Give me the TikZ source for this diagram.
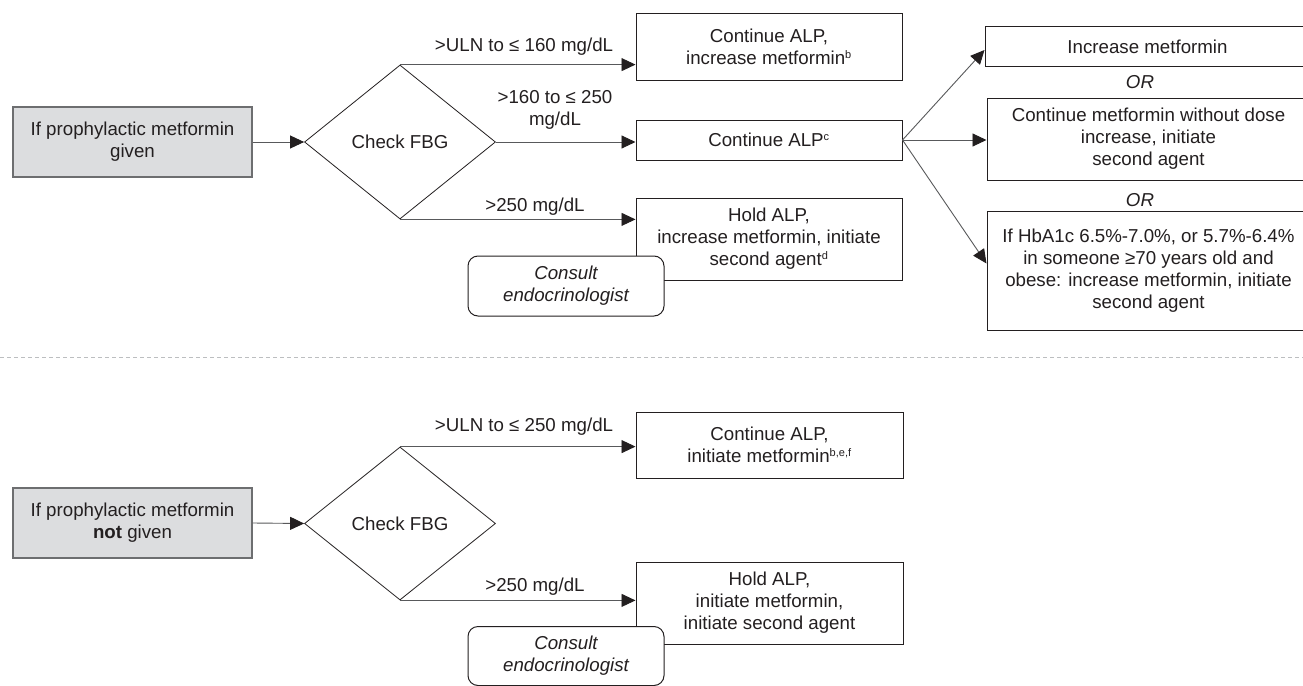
\documentclass[tikz,border=0pt]{standalone}
\usepackage{fontspec}
\setmainfont{Liberation Sans}
\usetikzlibrary{shapes.geometric,arrows.meta,calc}
\definecolor{txt}{HTML}{231F20}
\definecolor{linec}{HTML}{58595B}
\definecolor{gfill}{HTML}{DCDDDF}
\definecolor{gline}{HTML}{6D6E70}
\definecolor{dashc}{HTML}{BCBEC0}
\newcommand\fs{\fontsize{18.7}{22}\selectfont}
\newcommand\sups[1]{\textsuperscript{\fontsize{11}{11}\selectfont #1}}
\tikzset{
  box/.style={draw=txt, line width=1pt, fill=white, inner sep=0pt, align=center, text=txt, font=\fs},
  gbox/.style={draw=gline, fill=gfill, line width=1.4pt, inner sep=0pt, align=center, text=txt, font=\fs,
               minimum width=239pt, minimum height=70pt},
  dia/.style={diamond, draw=txt, line width=0.8pt, fill=white, inner sep=0pt, minimum width=191pt,
              minimum height=154pt, text=txt, font=\fs},
  cons/.style={box, rounded corners=10pt, font=\fs\itshape, minimum width=196pt},
  conn/.style={draw=linec, line width=0.9pt, -{Triangle[length=14pt,width=13pt,color=txt]}},
  lbl/.style={text=txt, font=\fs, align=center, inner sep=0pt},
  orl/.style={text=txt, font=\fs\itshape, inner sep=0pt},
}
\begin{document}
\begin{tikzpicture}[x=1pt,y=-1pt]
\useasboundingbox (0,0) rectangle (1303,685);
% ---------- top section ----------
\node[gbox] (g1) at (132.5,142) {If prophylactic metformin\\given};
\node[dia] (d1) at (400,142) {Check FBG};
\node[box, minimum width=266pt, minimum height=66pt] (b1) at (769,47) {Continue ALP,\\increase metformin\sups{b}};
\node[box, minimum width=266pt, minimum height=40pt] (b2) at (769,140) {Continue ALP\sups{c}};
\node[box, minimum width=266pt, minimum height=82pt] (b3) at (769,239) {Hold ALP,\\increase metformin, initiate\\second agent\sups{d}};
\node[cons, minimum height=60pt] (c1) at (566,286) {Consult\\endocrinologist};

\node[box, minimum width=325pt, minimum height=40pt] (r1) at (1147.5,47) {Increase metformin};
\node[orl] (o1) at (1140,82) {OR};
\node[box, minimum width=323pt, minimum height=82pt] (r2) at (1148.5,139) {Continue metformin without dose\\increase, initiate\\second agent};
\node[orl] (o2) at (1140,200) {OR};
\node[box, minimum width=323pt, minimum height=119pt] (r3) at (1148.5,270.5) {If HbA1c 6.5\%-7.0\%, or 5.7\%-6.4\%\\in someone ≥70 years old and\\obese: increase metformin, initiate\\second agent};

\node[lbl] (l1) at (524,47) {>ULN to ≤ 160 mg/dL};
\node[lbl] (l2) at (555,110) {>160 to ≤ 250\\mg/dL};
\node[lbl] (l3) at (535,207) {>250 mg/dL};

\draw[conn] (g1.east) -- (d1.west);
\draw[conn] (d1.north) -- (d1.north -| b1.west);
\draw[conn] (d1.east) -- (d1.east -| b2.west);
\draw[conn] (d1.south) -- (d1.south -| b3.west);
\draw[conn] (b2.east) -- ($(r1.west)+(0,3)$);
\draw[conn] (b2.east) -- (b2.east -| r2.west);
\draw[conn] (b2.east) -- ($(r3.west)+(0,-7)$);

% ---------- separator ----------
\coordinate (sl) at (0,357);
\coordinate (sr) at (1303,357);
\draw[dashc, line width=0.9pt, dash pattern=on 4pt off 3pt] (sl) -- (sr);

% ---------- bottom section ----------
\node[gbox] (g2) at (132.5,523) {If prophylactic metformin\\\textbf{not} given};
\node[dia, minimum height=153pt] (d2) at (400,523.5) {Check FBG};
\node[box, minimum width=267pt, minimum height=66pt] (b4) at (769.5,445) {Continue ALP,\\initiate metformin\sups{b,e,f}};
\node[box, minimum width=267pt, minimum height=82pt] (b5) at (769.5,603) {Hold ALP,\\initiate metformin,\\initiate second agent};
\node[cons, minimum height=59pt] (c2) at (566,656) {Consult\\endocrinologist};

\node[lbl] (l4) at (524,427) {>ULN to ≤ 250 mg/dL};
\node[lbl] (l5) at (535,587) {>250 mg/dL};

\draw[conn] (g2.east) -- (d2.west);
\draw[conn] (d2.north) -- (d2.north -| b4.west);
\draw[conn] (d2.south) -- (d2.south -| b5.west);
\end{tikzpicture}
\end{document}
